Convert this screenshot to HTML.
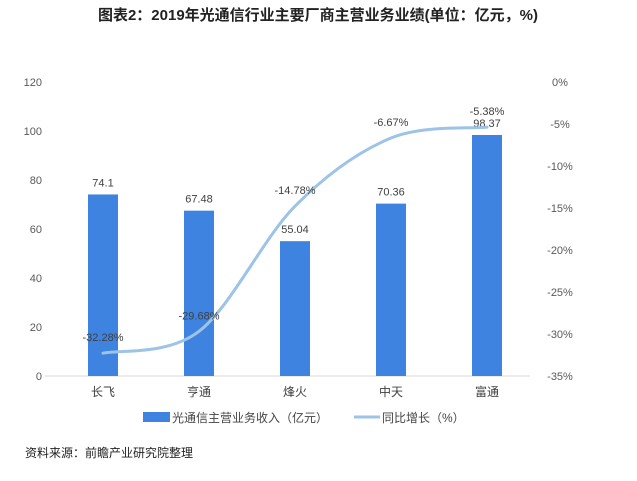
<!DOCTYPE html>
<html><head><meta charset="utf-8"><style>
body{margin:0;background:#fff;width:637px;height:476px;overflow:hidden;font-family:"Liberation Sans","Noto Sans CJK SC",sans-serif}
</style></head><body>
<svg id="c" width="637" height="476" xmlns="http://www.w3.org/2000/svg">
<text x="318" y="20" text-anchor="middle" font-size="15" font-weight="bold" fill="#222">图表2：2019年光通信行业主要厂商主营业务业绩(单位：亿元，%)</text>
<g id="g"></g>
<g>
<rect x="143" y="412" width="27" height="10" fill="#3f83e0"/>
<text x="172" y="422" font-size="12" fill="#444">光通信主营业务收入（亿元）</text>
<line x1="354" y1="417" x2="380" y2="417" stroke="#9dc3e6" stroke-width="3"/>
<text x="382" y="422" font-size="12" fill="#444">同比增长（%）</text>
</g>
<text x="25" y="457" font-size="12" fill="#222">资料来源：前瞻产业研究院整理</text>
</svg>
<script>
const categories=["长飞","亨通","烽火","中天","富通"];
const revenue=[74.1,67.48,55.04,70.36,98.37];
const growth=[-32.28,-29.68,-14.78,-6.67,-5.38];
const leftTicks=[0,20,40,60,80,100,120];
const rightTicks=[0,-5,-10,-15,-20,-25,-30,-35];
const g=document.getElementById('g');
const NS='http://www.w3.org/2000/svg';
const y0=376,yTop=82,x0=55,x1=535;
const yL=v=>y0-(v/120)*(y0-yTop);
const yR=v=>yTop+(-v/35)*(y0-yTop);
const bw=(x1-x0)/categories.length;
const xc=i=>x0+bw*(i+0.5);
function el(t,a,txt){const e=document.createElementNS(NS,t);for(const k in a)e.setAttribute(k,a[k]);if(txt!=null)e.textContent=txt;g.appendChild(e);return e;}
let e=el('line',{x1:45,y1:y0,x2:530,y2:y0,stroke:'#d9d9d9'});


leftTicks.forEach(v=>{const t=el('text',{x:42,y:yL(v)+4,'text-anchor':'end','font-size':11,fill:'#595959'},String(v));

});
rightTicks.forEach(v=>{const t=el('text',{x:560,y:yR(v)+4,'text-anchor':'middle','font-size':11,fill:'#595959'},v+'%');

});
categories.forEach((c,i)=>{
const b=el('rect',{x:xc(i)-15,y:yL(revenue[i]),width:30,height:y0-yL(revenue[i]),fill:'#3f83e0'});


const v=el('text',{x:xc(i),y:yL(revenue[i])-8,'text-anchor':'middle','font-size':11,fill:'#404040'},String(revenue[i]));


const l=el('text',{x:xc(i),y:y0+20,'text-anchor':'middle','font-size':12,fill:'#404040'},c);


});
const pts=growth.map((v,i)=>[xc(i),yR(v)]);
let d='M'+pts[0][0]+','+pts[0][1];
for(let i=0;i<pts.length-1;i++){const p0=pts[i-1]||pts[i],p1=pts[i],p2=pts[i+1],p3=pts[i+2]||p2;
d+=' C'+(p1[0]+(p2[0]-p0[0])/6)+','+(p1[1]+(p2[1]-p0[1])/6)+' '+(p2[0]-(p3[0]-p1[0])/6)+','+(p2[1]-(p3[1]-p1[1])/6)+' '+p2[0]+','+p2[1];}
const ln=el('path',{d:d,fill:'none',stroke:'#9dc3e6','stroke-width':3,'stroke-linecap':'round'});


growth.forEach((v,i)=>{const t=el('text',{x:xc(i),y:yR(v)-12,'text-anchor':'middle','font-size':11,fill:'#404040'},v.toFixed(2)+'%');

});
</script>
</body></html>
